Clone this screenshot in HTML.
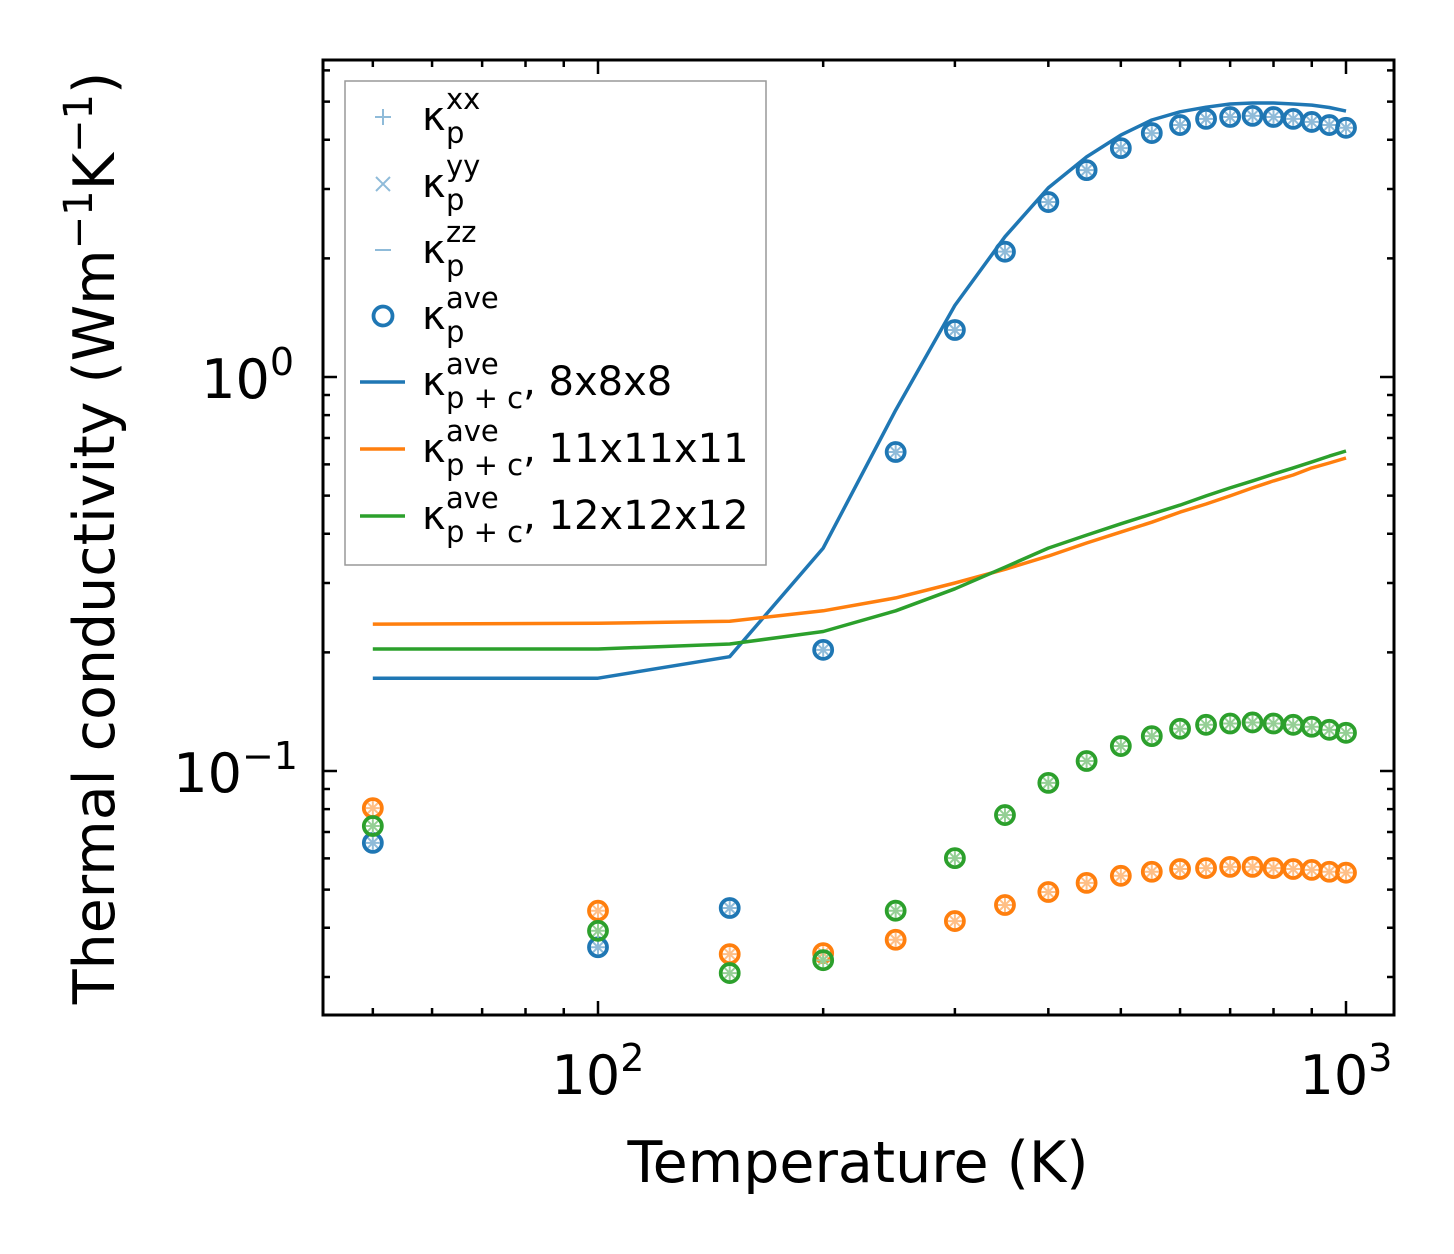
<!DOCTYPE html>
<html><head><meta charset="utf-8">
<style>
html,body{margin:0;padding:0;background:#fff;}
svg{display:block;font-family:"DejaVu Sans","Liberation Sans",sans-serif;}
</style></head>
<body>
<svg id="chart" width="1454" height="1254" viewBox="0 0 1454 1254" xmlns="http://www.w3.org/2000/svg">
<rect x="0" y="0" width="1454" height="1254" fill="#fff"/>
<g id="plot"></g>
<rect x="323" y="60" width="1071" height="955" fill="none" stroke="#000" stroke-width="3"/>
<g id="ticks"></g>
<text x="598" y="1094" font-size="54" text-anchor="middle">10<tspan dy="-23" font-size="38">2</tspan></text>
<text x="1346" y="1094" font-size="54" text-anchor="middle">10<tspan dy="-23" font-size="38">3</tspan></text>
<text x="294" y="398" font-size="54" text-anchor="end">10<tspan dy="-23" font-size="38">0</tspan></text>
<text x="298" y="792" font-size="54" text-anchor="end">10<tspan dy="-23" font-size="38">−1</tspan></text>
<text x="858" y="1182" font-size="57" text-anchor="middle">Temperature (K)</text>
<text transform="translate(114,538) rotate(-90)" font-size="57" text-anchor="middle">Thermal conductivity (Wm<tspan dy="-22" font-size="40">−1</tspan><tspan dy="22">K</tspan><tspan dy="-22" font-size="40">−1</tspan><tspan dy="22">)</tspan></text>
<g id="legend">
<rect x="345" y="81" width="421" height="484" fill="#fff" stroke="#999" stroke-width="1.5"/>
</g>
</svg>
<script>
const temps=[50,100,150,200,250,300,350,400,450,500,550,600,650,700,750,800,850,900,950,1000];
const blueCircles=[0.0657,0.0357,0.0449,0.203,0.645,1.316,2.08,2.78,3.35,3.81,4.16,4.36,4.52,4.57,4.60,4.57,4.52,4.44,4.36,4.29];
const orangeCircles=[0.0805,0.0442,0.0343,0.0345,0.0373,0.0416,0.0457,0.0493,0.052,0.0542,0.0555,0.0564,0.0567,0.0571,0.0571,0.0567,0.0564,0.0561,0.0555,0.0552];
const greenCircles=[0.0725,0.0393,0.0307,0.0331,0.0442,0.0601,0.0773,0.0933,0.106,0.1157,0.1226,0.128,0.131,0.132,0.1328,0.132,0.131,0.1295,0.1272,0.125];
const blueLine=[0.172,0.172,0.195,0.368,0.824,1.52,2.27,3.02,3.62,4.11,4.49,4.71,4.84,4.93,4.96,4.96,4.93,4.90,4.83,4.73];
const orangeLine=[0.236,0.237,0.240,0.255,0.275,0.300,0.325,0.351,0.379,0.404,0.428,0.454,0.476,0.499,0.523,0.545,0.564,0.588,0.605,0.623];
const greenLine=[0.204,0.204,0.21,0.226,0.255,0.29,0.329,0.368,0.397,0.424,0.449,0.473,0.499,0.523,0.545,0.567,0.588,0.609,0.630,0.649];
const xMajor=[100,1000];
const xMinor=[50,60,70,80,90,200,300,400,500,600,700,800,900];
const yMajor=[0.1,1];
const yMinor=[0.03,0.04,0.05,0.06,0.07,0.08,0.09,0.2,0.3,0.4,0.5,0.6,0.7,0.8,0.9,2,3,4,5,6];

const NS="http://www.w3.org/2000/svg";
function X(t){return 598+748*Math.log10(t/100);}
function Y(v){return 377-394*Math.log10(v);}
function mk(tag,attrs,parent){const e=document.createElementNS(NS,tag);for(const k in attrs)e.setAttribute(k,attrs[k]);parent.appendChild(e);return e;}
const plot=document.getElementById('plot');
const C={blue:'#1f77b4',orange:'#ff7f0e',green:'#2ca02c'};
const LC={blue:'#8fbbd9',orange:'#ffbf86',green:'#95cf95'};

function drawLine(vals,col,name){
  const d=temps.map((t,i)=>(i?'L':'M')+X(t).toFixed(1)+' '+Y(vals[i]).toFixed(1)).join(' ');
  const p=mk('path',{d:d,fill:'none',stroke:col,'stroke-width':3.5,'stroke-linejoin':'round'},plot);
  
  
}
function drawCircles(vals,key,name){
  temps.forEach((t,i)=>{
    const g=mk('g',{},plot);
    
    
    const x=X(t),y=Y(vals[i]);
    mk('path',{d:`M${x-7} ${y}H${x+7}M${x} ${y-7}V${y+7}M${x-5} ${y-5}L${x+5} ${y+5}M${x-5} ${y+5}L${x+5} ${y-5}`,stroke:LC[key],'stroke-width':2},g);
    mk('circle',{cx:x,cy:y,r:9,fill:'none',stroke:C[key],'stroke-width':3.8},g);
  });
}
drawLine(blueLine,C.blue,'line-8x8x8');
drawLine(orangeLine,C.orange,'line-11x11x11');
drawLine(greenLine,C.green,'line-12x12x12');
drawCircles(blueCircles,'blue','kp-ave-8x8x8');
drawCircles(orangeCircles,'orange','kp-ave-11x11x11');
drawCircles(greenCircles,'green','kp-ave-12x12x12');

const tk=document.getElementById('ticks');
function tick(d,name){const p=mk('path',{d:d,stroke:'#000','stroke-width':2.5},tk);}
xMajor.forEach(t=>{const x=X(t);tick(`M${x} 1015V1001M${x} 60V74`,'x-major-tick');});
xMinor.forEach(t=>{const x=X(t);tick(`M${x} 1015V1008M${x} 60V67`,'x-minor-tick');});
yMajor.forEach(v=>{const y=Y(v);tick(`M323 ${y}H337M1394 ${y}H1380`,'y-major-tick');});
yMinor.forEach(v=>{const y=Y(v);tick(`M323 ${y}H330M1394 ${y}H1387`,'y-minor-tick');});

const lg=document.getElementById('legend');
const entries=[
 {y:117,type:'plus',sup:'xx',sub:'p',extra:''},
 {y:184,type:'x',sup:'yy',sub:'p',extra:''},
 {y:250,type:'minus',sup:'zz',sub:'p',extra:''},
 {y:316,type:'circle',sup:'ave',sub:'p',extra:''},
 {y:382,type:'line',col:C.blue,sup:'ave',sub:'p + c',extra:', 8x8x8'},
 {y:449,type:'line',col:C.orange,sup:'ave',sub:'p + c',extra:', 11x11x11'},
 {y:516,type:'line',col:C.green,sup:'ave',sub:'p + c',extra:', 12x12x12'}
];
entries.forEach((e,i)=>{
  const g=mk('g',{},lg);
  
  
  const cx=383,y=e.y;
  if(e.type==='plus')mk('path',{d:`M${cx-8} ${y}H${cx+8}M${cx} ${y-8}V${y+8}`,stroke:LC.blue,'stroke-width':2},g);
  if(e.type==='x')mk('path',{d:`M${cx-7} ${y-7}L${cx+7} ${y+7}M${cx-7} ${y+7}L${cx+7} ${y-7}`,stroke:LC.blue,'stroke-width':2},g);
  if(e.type==='minus')mk('path',{d:`M${cx-8} ${y}H${cx+8}`,stroke:LC.blue,'stroke-width':2},g);
  if(e.type==='circle')mk('circle',{cx:cx,cy:y,r:9.5,fill:'none',stroke:C.blue,'stroke-width':3.8},g);
  if(e.type==='line')mk('path',{d:`M360 ${y}H405`,stroke:e.col,'stroke-width':3.5},g);
  const t=mk('text',{x:422,y:y+13,'font-size':40},g);
  t.innerHTML=`κ<tspan x="446" dy="-21" font-size="29">${e.sup}</tspan><tspan x="446" dy="34" font-size="29">${e.sub}</tspan>`+(e.extra?`<tspan dy="-13" font-size="40">${e.extra}</tspan>`:'');
});
</script>
</body></html>
